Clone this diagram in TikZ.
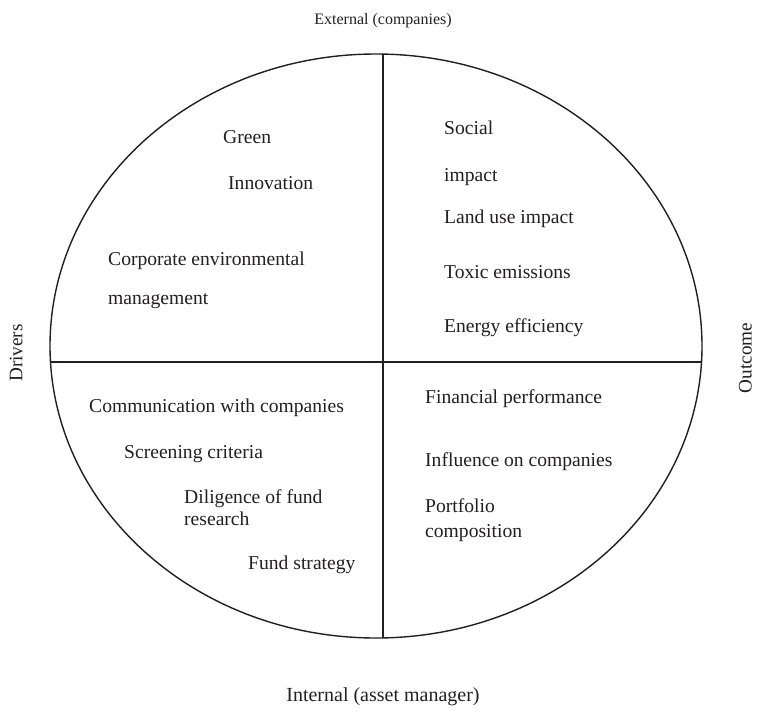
\documentclass[tikz,border=0pt]{standalone}
\usepackage{fontspec}
\setmainfont{Liberation Serif}
\definecolor{ink}{HTML}{231F20}
\begin{document}
\begin{tikzpicture}[x=1pt,y=-1pt,
  lbl/.style={anchor=base west,inner sep=0pt,text=ink,font=\fontsize{19.6}{23}\selectfont},
  axlbl/.style={inner sep=0pt,text=ink,font=\fontsize{19.2}{23}\selectfont},
  frame/.style={draw=ink,line width=1.4pt}]
\useasboundingbox (0,0) rectangle (757,712);
\draw[frame] (376,346) ellipse [x radius=326, y radius=292];
\coordinate (vt) at (383,54.1);
\coordinate (vb) at (383,637.9);
\coordinate (hl) at (50.4,362);
\coordinate (hr) at (701.6,362);
\draw[frame] (vt) -- (vb);
\draw[frame] (hl) -- (hr);
% axis labels
\node[anchor=base,inner sep=0pt,text=ink,font=\fontsize{16}{19}\selectfont] (ext) at (383,24) {External (companies)};
\node[anchor=base,inner sep=0pt,text=ink,font=\fontsize{20}{24}\selectfont] (int) at (383,701) {Internal (asset manager)};
\node[axlbl,rotate=90] (drv) at (16,353) {Drivers};
\node[axlbl,rotate=90,anchor=south] (out) at (752,358) {Outcome};
% top left
\node[lbl] (g1) at (223,143) {Green};
\node[lbl] (g2) at (228,189) {Innovation};
\node[lbl] (c1) at (108,265) {Corporate environmental};
\node[lbl] (c2) at (108,304) {management};
% top right
\node[lbl] (s1) at (444,134) {Social};
\node[lbl] (s2) at (444,181) {impact};
\node[lbl] (lu) at (444,223) {Land use impact};
\node[lbl] (te) at (444,278) {Toxic emissions};
\node[lbl] (ee) at (444,332) {Energy efficiency};
% bottom left
\node[lbl] (cw) at (89,412) {Communication with companies};
\node[lbl] (sc) at (124,458) {Screening criteria};
\node[lbl] (d1) at (184,503) {Diligence of fund};
\node[lbl] (d2) at (184,525) {research};
\node[lbl] (fs) at (248,569) {Fund strategy};
% bottom right
\node[lbl] (fp) at (425,403) {Financial performance};
\node[lbl] (ic) at (425,466) {Influence on companies};
\node[lbl] (p1) at (425,512) {Portfolio};
\node[lbl] (p2) at (425,537) {composition};
\end{tikzpicture}
\end{document}
